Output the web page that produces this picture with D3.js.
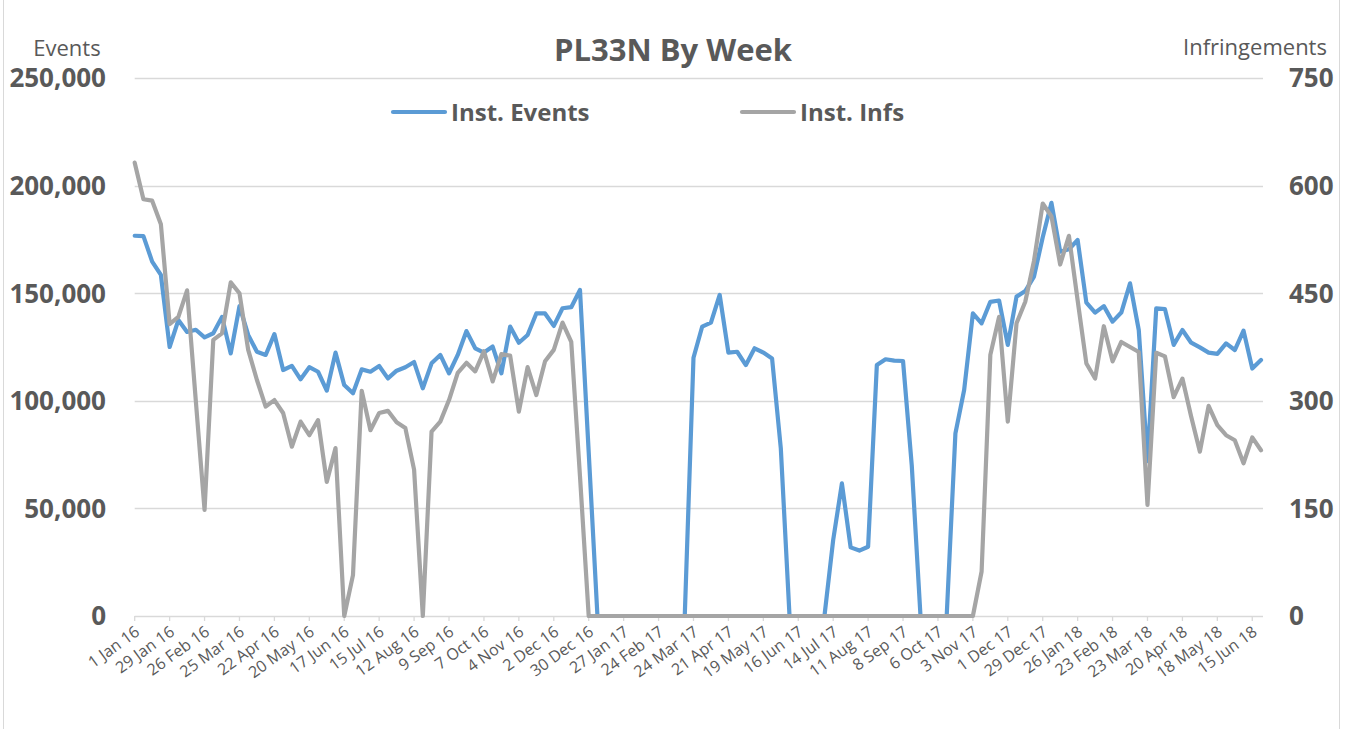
<!DOCTYPE html>
<html>
<head>
<meta charset="utf-8">
<script src="https://cdn.jsdelivr.net/npm/d3@7"></script>
<style>
  body { margin: 0; background: #fff; font-family: "Open Sans", sans-serif; }
  svg text { fill: #595959; }
</style>
</head>
<body>
<script>
//-----------------Data----------------
const tickLabels = ["1 Jan 16", "29 Jan 16", "26 Feb 16", "25 Mar 16", "22 Apr 16", "20 May 16", "17 Jun 16", "15 Jul 16",
  "12 Aug 16", "9 Sep 16", "7 Oct 16", "4 Nov 16", "2 Dec 16", "30 Dec 16", "27 Jan 17", "24 Feb 17", "24 Mar 17",
  "21 Apr 17", "19 May 17", "16 Jun 17", "14 Jul 17", "11 Aug 17", "8 Sep 17", "6 Oct 17", "3 Nov 17", "1 Dec 17",
  "29 Dec 17", "26 Jan 18", "23 Feb 18", "23 Mar 18", "20 Apr 18", "18 May 18", "15 Jun 18"];

const leftTicks = [0, 50000, 100000, 150000, 200000, 250000];
const rightTicks = [0, 150, 300, 450, 600, 750];

// weekly values, 1 Jan 16 .. 22 Jun 18
const instEvents = [
  176700, 176500, 164700, 158500, 125000, 137500, 132000, 133000, 129500, 131400,
  139000, 122000, 144000, 130600, 122800, 121300, 131000, 114300, 116200, 110000,
  115600, 113500, 104700, 122400, 107300, 103500, 114600, 113500, 116200, 110400,
  114000, 115600, 118000, 105800, 117400, 121300, 112800, 121300, 132400, 124400,
  122400, 125200, 112800, 134500, 127000, 130600, 140600, 140600, 134800, 143000,
  143500, 151500, 76000, 0, 0, 0, 0, 0, 0, 0,
  0, 0, 0, 0, 120000, 134500, 136300, 149200, 122400, 122800,
  116600, 124400, 122400, 119700, 78000, 0, 0, 0, 0, 0,
  35300, 61600, 31900, 30400, 32200, 116600, 119300, 118700, 118500, 70000,
  0, 0, 0, 0, 84900, 105000, 140600, 136000, 146000, 146600,
  126000, 148400, 151000, 157700, 176000, 192000, 169300, 170400, 174700, 145600,
  141000, 144000, 136800, 141000, 154600, 132900, 72000, 143000, 142600, 126000,
  132900, 127000, 124800, 122400, 121800, 126700, 123600, 132600, 115000, 119000
];

const instInfs = [
  632, 581, 579, 546, 407, 417, 454, 300, 148, 385,
  394, 465, 450, 371, 329, 292, 301, 283, 236, 271,
  252, 273, 187, 234, 0, 57, 314, 259, 283, 286,
  270, 262, 204, 0, 257, 271, 301, 339, 353, 341,
  369, 327, 365, 363, 285, 347, 308, 355, 371, 409,
  382, 195, 0, 0, 0, 0, 0, 0, 0, 0,
  0, 0, 0, 0, 0, 0, 0, 0, 0, 0,
  0, 0, 0, 0, 0, 0, 0, 0, 0, 0,
  0, 0, 0, 0, 0, 0, 0, 0, 0, 0,
  0, 0, 0, 0, 0, 0, 0, 62, 364, 417,
  271, 408, 438, 495, 575, 557, 490, 530, 440, 352,
  331, 404, 355, 382, 375, 368, 155, 367, 362, 305,
  331, 278, 229, 293, 266, 252, 245, 213, 249, 231
];

//-----------------Svg----------------
const width = 1346;
const height = 729;
const plotLeft = 134.7;
const plotRight = 1261;
const plotTop = 78;
const plotBottom = 616;

const svg = d3.select("body").append("svg").attr("width", width).attr("height", height);

// chart border
svg.append("rect")
  .attr("x", 3.5).attr("y", -2)
  .attr("width", 1336).attr("height", height + 10)
  .attr("fill", "none").attr("stroke", "#d9d9d9");

//-----------------Scales----------------
const x = d3.scaleLinear().domain([0, instEvents.length - 1]).range([plotLeft, plotRight]);
const yLeft = d3.scaleLinear().domain([0, 250000]).range([plotBottom, plotTop]);
const yRight = d3.scaleLinear().domain([0, 750]).range([plotBottom, plotTop]);

//-----------------Grid & axes----------------
svg.append("g")
  .selectAll("line")
  .data(leftTicks)
  .enter()
  .append("line")
  .attr("x1", plotLeft)
  .attr("x2", plotRight + 2)
  .attr("y1", (d) => Math.round(yLeft(d)) + 0.5)
  .attr("y2", (d) => Math.round(yLeft(d)) + 0.5)
  .attr("stroke", "#d9d9d9")
  .attr("stroke-width", 1.3);

svg.append("g")
  .selectAll("text")
  .data(leftTicks)
  .enter()
  .append("text")
  .attr("x", 106)
  .attr("y", (d) => yLeft(d))
  .attr("dy", "0.36em")
  .attr("text-anchor", "end")
  .style("font-size", "26px")
  .style("font-weight", "bold")
  .text((d) => d3.format(",")(d));

svg.append("g")
  .selectAll("text")
  .data(rightTicks)
  .enter()
  .append("text")
  .attr("x", 1289)
  .attr("y", (d) => yRight(d))
  .attr("dy", "0.36em")
  .style("font-size", "26px")
  .style("font-weight", "bold")
  .text((d) => d);

// x ticks every 4 weeks
const xTicks = svg.append("g")
  .selectAll("g")
  .data(tickLabels)
  .enter()
  .append("g")
  .attr("transform", (d, i) => `translate(${x(i * 4)}, ${plotBottom})`);

xTicks.append("line")
  .attr("y1", 0).attr("y2", 5)
  .attr("stroke", "#d9d9d9")
  .attr("stroke-width", 1.3);

xTicks.append("text")
  .attr("text-anchor", "end")
  .attr("transform", "translate(6, 18) rotate(-36)")
  .style("font-size", "16px")
  .text((d) => d);

//-----------------Lines----------------
const lineLeft = d3.line().x((d, i) => x(i)).y((d) => yLeft(d));
const lineRight = d3.line().x((d, i) => x(i)).y((d) => yRight(d));

svg.append("path")
  .datum(instEvents)
  .attr("d", lineLeft)
  .attr("fill", "none")
  .attr("stroke", "#5b9bd5")
  .attr("stroke-width", 4.2)
  .attr("stroke-linejoin", "round")
  .attr("stroke-linecap", "round");

svg.append("path")
  .datum(instInfs)
  .attr("d", lineRight)
  .attr("fill", "none")
  .attr("stroke", "#a5a5a5")
  .attr("stroke-width", 4.2)
  .attr("stroke-linejoin", "round")
  .attr("stroke-linecap", "round");

//-----------------Titles & legend----------------
svg.append("text")
  .attr("x", 673).attr("y", 50).attr("dy", "0.36em")
  .attr("text-anchor", "middle")
  .style("font-size", "31px")
  .style("font-weight", "bold")
  .text("PL33N By Week");

svg.append("text")
  .attr("x", 67).attr("y", 48).attr("dy", "0.36em")
  .attr("text-anchor", "middle")
  .style("font-size", "22px")
  .text("Events");

svg.append("text")
  .attr("x", 1255).attr("y", 47).attr("dy", "0.36em")
  .attr("text-anchor", "middle")
  .style("font-size", "22px")
  .text("Infringements");

const legendItems = [
  { name: "Inst. Events", color: "#5b9bd5", x: 393 },
  { name: "Inst. Infs", color: "#a5a5a5", x: 742 },
];

const legend = svg.append("g")
  .selectAll("g")
  .data(legendItems)
  .enter()
  .append("g")
  .attr("transform", (d) => `translate(${d.x}, 112)`);

legend.append("line")
  .attr("x1", 0).attr("x2", 52)
  .attr("stroke", (d) => d.color)
  .attr("stroke-width", 4.2)
  .attr("stroke-linecap", "round");

legend.append("text")
  .attr("x", 58)
  .attr("dy", "0.36em")
  .style("font-size", "24px")
  .style("font-weight", "bold")
  .text((d) => d.name);
</script>
</body>
</html>
